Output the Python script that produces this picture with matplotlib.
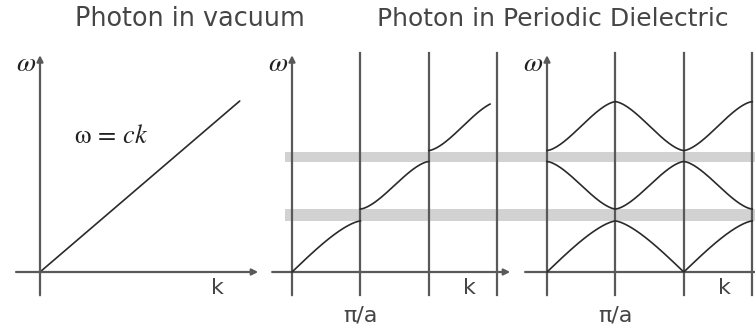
import numpy as np
import matplotlib
matplotlib.use('Agg')
import matplotlib.pyplot as plt

plt.rcParams['mathtext.fontset'] = 'stix'

# band edges in the extended zone (omega, arbitrary units; k in units of pi/a)
band_lo = [0.0, 0.921, 1.776]
band_hi = [0.746, 1.615, 2.49]
# shaded photonic band gaps
gap_lo = [0.74, 1.61]
gap_hi = [0.92, 1.755]
# vacuum light line end point
vac_k = [0.0, 2.92]
vac_w = [0.0, 2.50]
zone_edges = [1, 2, 3]
ext_k_end = 2.895

titles = ['Photon in vacuum', 'Photon in Periodic Dielectric']

# ── layout (pixels) ──────────────────────────────────────────────────────────
W, H = 755, 329
S = 68.4          # pixels per unit
Y0 = 272          # pixel row of omega = 0
AXIS_C = '#595959'
CURVE_C = '#2a2a2a'
GAP_C = '#d2d2d2'
TEXT_C = '#454545'

fig = plt.figure(figsize=(W / 100, H / 100), dpi=100)


def make_ax(left, right, ox):
    ax = fig.add_axes([left / W, 0, (right - left) / W, 1])
    ax.set_xlim((left - ox) / S, (right - ox) / S)
    ax.set_ylim(-(H - Y0) / S, Y0 / S)
    ax.axis('off')
    return ax


def arrow(ax, x0, y0, x1, y1, head=True):
    ax.annotate('', xy=(x1, y1), xytext=(x0, y0), annotation_clip=False,
                arrowprops=dict(arrowstyle='-|>' if head else '-', color=AXIS_C,
                                lw=1.6, mutation_scale=9, shrinkA=0, shrinkB=0))


# shape of one band across the zone: slope profile integrated and normalised,
# so the curve runs almost straight and only bends close to the gap edges
_t = np.linspace(0, 1, 401)
_prof = [np.cos(np.pi * _t / 2) ** 0.45, np.sin(np.pi * _t) ** 0.55]
_cum = [np.concatenate([[0], np.cumsum((p[1:] + p[:-1]) / 2)]) for p in _prof]
_cum = [c / c[-1] for c in _cum]


def band_shape(n, t):
    """omega of band n at fractional position t in [0, 1] across the band"""
    h = np.interp(t, _t, _cum[0] if n == 0 else _cum[1])
    return band_lo[n] + (band_hi[n] - band_lo[n]) * h


def axes_frame(ax, x_left, x_right, head=True):
    arrow(ax, x_left, 0, x_right, 0, head)
    arrow(ax, 0, -0.34, 0, 3.17)
    ax.text(-0.2, 3.05, r'$\omega$', fontsize=20, color='#222222',
            ha='center', va='center')


# ── panel 1: vacuum ──────────────────────────────────────────────────────────
ax1 = make_ax(0, 262, 40)
axes_frame(ax1, -0.35, 3.19)
ax1.plot(vac_k, vac_w, color=CURVE_C, lw=1.2, solid_capstyle='round')
ax1.text(1.04, 1.99, r'$\mathrm{ω}\,=\,ck$', fontsize=19, color='#222222',
         ha='center', va='center')
ax1.text(2.59, -0.24, 'k', fontsize=16, color=TEXT_C, ha='center', va='center')

# ── panel 2: extended zone ───────────────────────────────────────────────────
ax2 = make_ax(262, 510, 292)
x_right2 = ax2.get_xlim()[1]
for lo, hi in zip(gap_lo, gap_hi):
    ax2.fill_between([-0.1, x_right2], lo, hi, color=GAP_C, lw=0, zorder=0)
for xe in zone_edges:
    ax2.plot([xe, xe], [-0.34, 3.2], color=AXIS_C, lw=1.6, zorder=2)
axes_frame(ax2, -0.29, 3.19)
for n in range(3):
    k_end = n + 1 if n < 2 else ext_k_end
    k = np.linspace(n, k_end, 200)
    ax2.plot(k, band_shape(n, k - n), color=CURVE_C, lw=1.2, zorder=3)
ax2.text(2.6, -0.24, 'k', fontsize=16, color=TEXT_C, ha='center', va='center')
ax2.text(1.0, -0.63, 'π/a', fontsize=16, color=TEXT_C, ha='center', va='center')

# ── panel 3: reduced zone (folded bands) ─────────────────────────────────────
ax3 = make_ax(510, 755, 547)
x_left3, x_right3 = ax3.get_xlim()
for lo, hi in zip(gap_lo, gap_hi):
    ax3.fill_between([x_left3, x_right3], lo, hi, color=GAP_C, lw=0, zorder=0)
for xe in zone_edges:
    ax3.plot([xe, xe], [-0.34, 3.2], color=AXIS_C, lw=1.6, zorder=2)
axes_frame(ax3, -0.32, 3.4, head=False)
k = np.linspace(0, 3, 601)
t = 1 - np.abs((k % 2) - 1)     # folded position inside the first zone
for n in range(3):
    # odd bands are traversed backwards when folded into the first zone
    tn = 1 - t if n == 1 else t
    ax3.plot(k, band_shape(n, tn), color=CURVE_C, lw=1.2, zorder=3)
ax3.text(2.6, -0.24, 'k', fontsize=16, color=TEXT_C, ha='center', va='center')
ax3.text(1.0, -0.63, 'π/a', fontsize=16, color=TEXT_C, ha='center', va='center')

# ── titles ───────────────────────────────────────────────────────────────────
fig.text(189.5 / W, 1 - 19 / H, titles[0], fontsize=18.4, color=TEXT_C,
         ha='center', va='center')
fig.text(552.5 / W, 1 - 19 / H, titles[1], fontsize=18, color=TEXT_C,
         ha='center', va='center')

fig.savefig('out.png', dpi=100)
